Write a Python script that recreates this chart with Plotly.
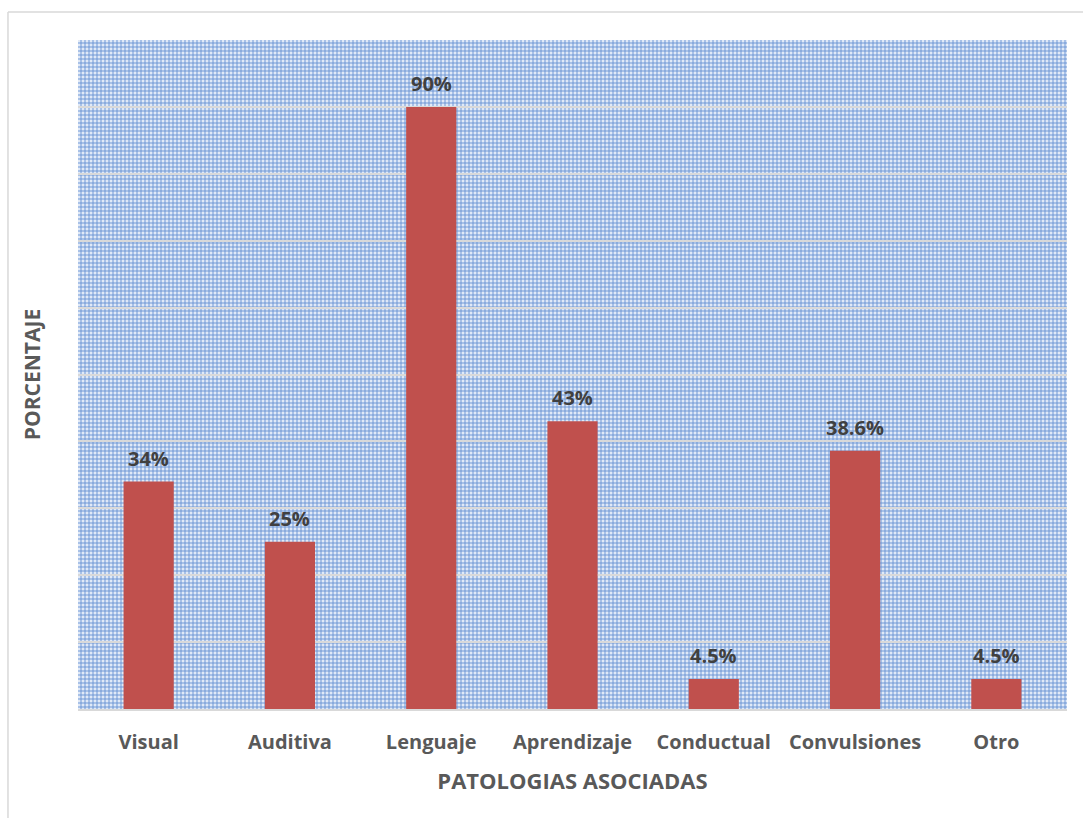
import base64
import plotly.graph_objects as go

# Datos del gráfico
categorias = ["Visual", "Auditiva", "Lenguaje", "Aprendizaje", "Conductual", "Convulsiones", "Otro"]
porcentajes = [34, 25, 90, 43, 4.5, 38.6, 4.5]
etiquetas = [f"{v:g}%" for v in porcentajes]

FONT = "Open Sans"
BAR_COLOR = "#c0504d"
GRID = "#d9d9d9"
TEXT = "#595959"
LABEL = "#404040"

# Fondo del área de trazado: trama de cuadros azules
svg = (
    "<svg xmlns='http://www.w3.org/2000/svg' width='989' height='669'>"
    "<defs><pattern id='p' width='4' height='4' patternUnits='userSpaceOnUse'>"
    "<rect width='4' height='4' fill='#a8c1e7'/>"
    "<rect width='2' height='2' fill='#e0e9f7'/>"
    "<rect x='2' y='2' width='2' height='2' fill='#8aabdd'/>"
    "</pattern></defs>"
    "<rect width='100%' height='100%' fill='url(#p)'/></svg>"
)
svg_uri = "data:image/svg+xml;base64," + base64.b64encode(svg.encode()).decode()

fig = go.Figure(
    go.Bar(
        x=categorias,
        y=porcentajes,
        marker=dict(color=BAR_COLOR, line=dict(width=0)),
        hoverinfo="x+y",
    )
)

for cat, val, txt in zip(categorias, porcentajes, etiquetas):
    fig.add_annotation(
        x=cat, y=val, text=f"<b>{txt}</b>", showarrow=False,
        yanchor="bottom", yshift=8,
        font=dict(family=FONT, size=20, color=LABEL),
    )

# Borde del área del gráfico (superior e izquierdo)
fig.add_shape(type="line", xref="paper", yref="paper",
              x0=-0.0708, x1=1.2, y0=1.0419, y1=1.0419,
              line=dict(color=GRID, width=1.5))
fig.add_shape(type="line", xref="paper", yref="paper",
              x0=-0.0708, x1=-0.0708, y0=1.0419, y1=-0.3,
              line=dict(color=GRID, width=1.5))

fig.update_layout(
    width=1083,
    height=818,
    margin=dict(l=78, r=16, t=40, b=109),
    paper_bgcolor="white",
    plot_bgcolor="rgba(0,0,0,0)",
    bargap=0.645,
    showlegend=False,
    font=dict(family=FONT, color=TEXT),
    images=[dict(
        source=svg_uri, xref="paper", yref="paper",
        x=0, y=1, sizex=1, sizey=1,
        xanchor="left", yanchor="top",
        sizing="stretch", layer="below",
    )],
    xaxis=dict(
        showgrid=False,
        showline=True, linecolor=GRID, linewidth=2,
        ticks="outside", ticklen=14, tickcolor="rgba(0,0,0,0)",
        tickprefix="<b>", ticksuffix="</b>",
        tickfont=dict(family=FONT, size=20, color=TEXT),
        title=dict(text="<b>PATOLOGIAS ASOCIADAS</b>",
                   font=dict(family=FONT, size=22, color=TEXT), standoff=20),
    ),
    yaxis=dict(
        range=[0, 100],
        dtick=10,
        showgrid=True, gridcolor=GRID, gridwidth=2,
        zeroline=False,
        showticklabels=False,
        ticks="",
        title=dict(text="<b>PORCENTAJE</b>",
                   font=dict(family=FONT, size=21, color=TEXT), standoff=30),
    ),
)

fig.write_html("out.html")
